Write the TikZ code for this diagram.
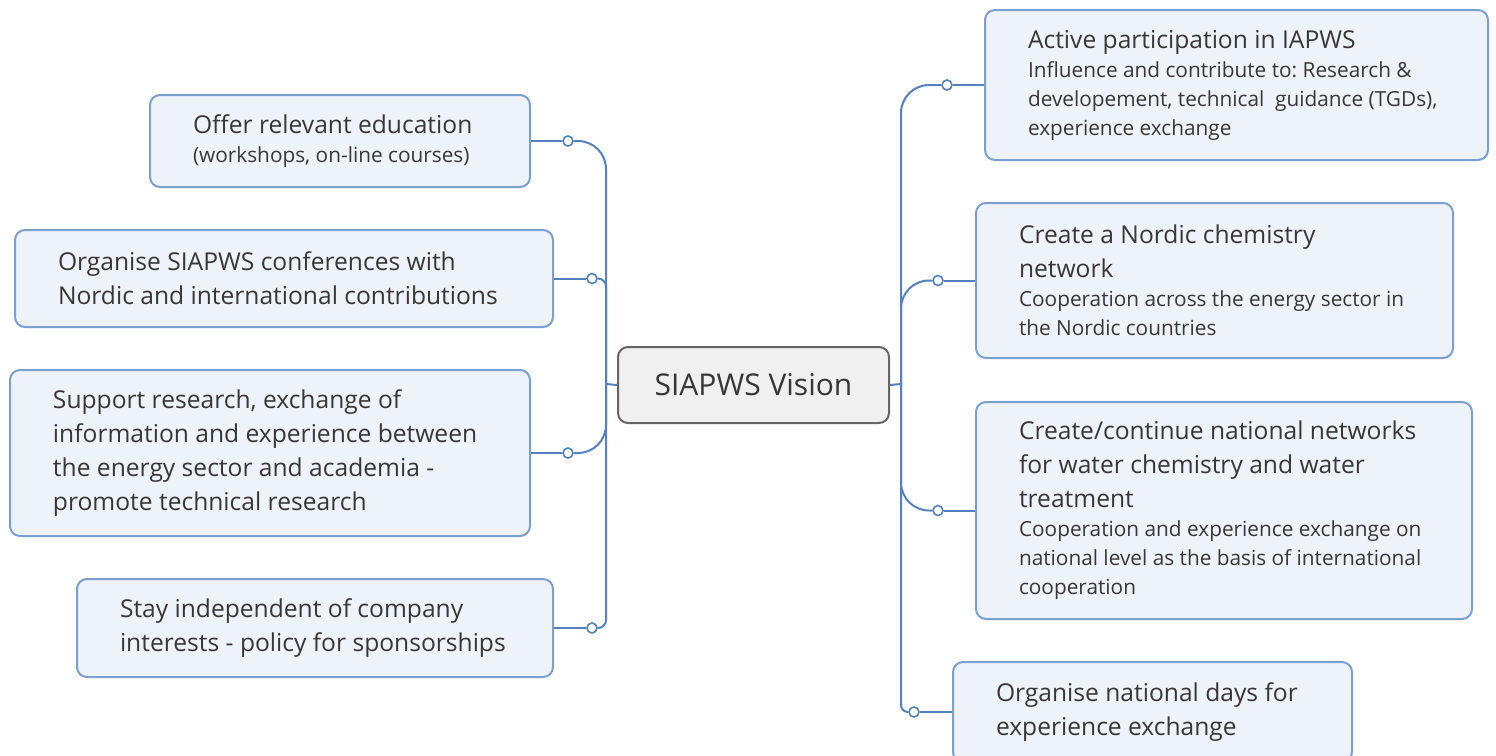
\documentclass[tikz,border=0pt]{standalone}
\usepackage{fontspec}
\setmainfont{Open Sans}
\definecolor{linkblue}{RGB}{84,130,190}
\definecolor{boxline}{RGB}{122,160,210}
\definecolor{boxfill}{RGB}{238,243,250}
\definecolor{txtgray}{RGB}{55,55,55}
\frenchspacing
\hyphenpenalty=10000
\exhyphenpenalty=10000
\newcommand{\subtxt}{\fontsize{10.4}{14.5}\selectfont}
\tikzset{
  topic/.style={draw=boxline,fill=boxfill,line width=1pt,rounded corners=5pt,inner xsep=21.5pt,inner ysep=0pt,align=flush left,text=txtgray,font=\fontsize{12.3}{17}\selectfont},
  central/.style={draw=gray!80!black,fill=gray!12,line width=1pt,rounded corners=5pt,text=txtgray,font=\fontsize{15}{18}\selectfont},
  dot/.style={circle,draw=linkblue,fill=white,line width=0.8pt,inner sep=0pt,minimum size=5pt},
  link/.style={draw=linkblue,line width=1pt}
}
\begin{document}
\begin{tikzpicture}[x=0.5pt,y=-0.5pt]
	\useasboundingbox (0,0) rectangle (1496,756);
	\node[topic,text width=147pt,minimum height=46pt] (edu) at (340,141) {Offer relevant education\par\subtxt (workshops, on-line courses)\par};
	\node[topic,text width=226pt,minimum height=48.5pt] (conf) at (284,278.5) {Organise SIAPWS conferences with\\Nordic and international contributions};
	\node[topic,text width=217pt,minimum height=83pt] (res) at (270,453) {Support research, exchange of\\information and experience between\\the energy sector and academia -\\promote technical research};
	\node[topic,text width=195pt,minimum height=49pt] (indep) at (315,628) {Stay independent of company\\interests - policy for sponsorships};
	\node[central,minimum width=135.5pt,minimum height=38pt] (vision) at (753.5,385) {SIAPWS Vision};
	\node[topic,text width=208.5pt,minimum height=75pt] (iapws) at (1236.5,85) {Active participation in IAPWS\par\subtxt Influence and contribute to: Research \&\\developement, technical\ \ guidance (TGDs),\\experience exchange\par};
	\node[topic,text width=195.5pt,minimum height=77.5pt] (nordic) at (1214.5,280.5) {Create a Nordic chemistry\\network\par\subtxt Cooperation across the energy sector in\\the Nordic countries\par};
	\node[topic,text width=205pt,minimum height=108.5pt] (natnet) at (1224,510.5) {Create/continue national networks\\for water chemistry and water\\treatment\par\subtxt Cooperation and experience exchange on\\national level as the basis of international\\cooperation\par};
	\node[topic,text width=156.5pt,minimum height=50pt] (days) at (1152.5,712) {Organise national days for\\experience exchange};
	\coordinate (hubL) at (606,384);
	\coordinate (hubR) at (901,384);
	\node[dot] (dedu) at (568,141) {};
	\node[dot] (dconf) at (592,278.5) {};
	\node[dot] (dres) at (568,453) {};
	\node[dot] (dindep) at (592,628) {};
	\node[dot] (diapws) at (947,85) {};
	\node[dot] (dnordic) at (938,280.5) {};
	\node[dot] (dnatnet) at (938,510.5) {};
	\node[dot] (ddays) at (914,712) {};
	\draw[link] (vision.west) -- (hubL);
	\draw[link] (vision.east) -- (hubR);
	\draw[link,rounded corners=14pt] (hubL) |- (dedu);
	\draw[link,rounded corners=4pt] (hubL) |- (dconf);
	\draw[link,rounded corners=14pt] (hubL) |- (dres);
	\draw[link,rounded corners=4pt] (hubL) |- (dindep);
	\draw[link,rounded corners=14pt] (hubR) |- (diapws);
	\draw[link,rounded corners=14pt] (hubR) |- (dnordic);
	\draw[link,rounded corners=14pt] (hubR) |- (dnatnet);
	\draw[link,rounded corners=3.5pt] (hubR) |- (ddays);
	\draw[link] (dedu) -- (edu);
	\draw[link] (dconf) -- (conf);
	\draw[link] (dres) -- (res);
	\draw[link] (dindep) -- (indep);
	\draw[link] (diapws) -- (iapws);
	\draw[link] (dnordic) -- (nordic);
	\draw[link] (dnatnet) -- (natnet);
	\draw[link] (ddays) -- (days);
\end{tikzpicture}
\end{document}
